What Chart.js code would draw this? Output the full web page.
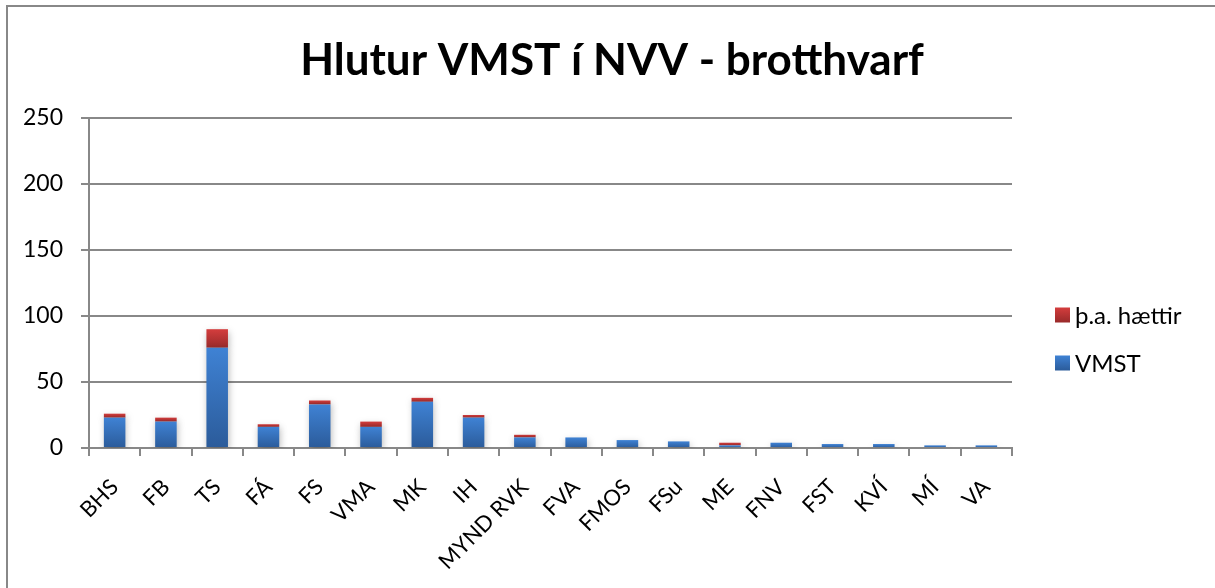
<!DOCTYPE html>
<html><head><meta charset="utf-8">
<script src="https://cdn.jsdelivr.net/npm/chart.js@4/dist/chart.umd.min.js"></script>
<style>html,body{margin:0;padding:0;background:#fff;overflow:hidden}</style>
</head><body>
<canvas id="c" width="1215" height="588"></canvas>
<script>
const categories = ['BHS','FB','TS','FÁ','FS','VMA','MK','IH','MYND RVK','FVA','FMOS','FSu','ME','FNV','FST','KVÍ','MÍ','VA'];
const vmstValues = [23,20,76,16,33,16,35,23,8,8,6,5,2,4,3,3,2,2];
const haettirValues = [3,3,14,2,3,4,3,2,2,0,0,0,2,0,0,0,0,0];
const yTickValues = [0,50,100,150,200,250];
const seriesNames = ['VMST','þ.a. hættir'];
const chartTitle = 'Hlutur VMST í NVV - brotthvarf';

const FONT = 'Lato, "Open Sans", sans-serif';
const GRID = '#888888';
const blueStops = ['#3f82d4', '#2b5b9a'];
const redStops = ['#d43d3d', '#992a2a'];

function grad(ctx, top, bottom, stops) {
  const g = ctx.createLinearGradient(0, top, 0, bottom);
  g.addColorStop(0, stops[0]);
  g.addColorStop(1, stops[1]);
  return g;
}

function barFill(stops, lowerArr, upperArr) {
  return function(context) {
    const chart = context.chart;
    const y = chart.scales.y;
    if (!chart.chartArea || !y || context.dataIndex === undefined) return stops[0];
    const i = context.dataIndex;
    const lo = lowerArr ? lowerArr[i] : 0;
    const hi = lo + upperArr[i];
    const top = y.getPixelForValue(hi);
    const bottom = y.getPixelForValue(lo);
    if (!isFinite(top) || !isFinite(bottom) || top === bottom) return stops[0];
    return grad(chart.ctx, top, bottom, stops);
  };
}

const framePlugin = {
  id: 'frame',
  beforeDraw(chart) {
    const ctx = chart.ctx;
    ctx.save();
    ctx.fillStyle = '#fff';
    ctx.fillRect(0, 0, chart.width, chart.height);
    ctx.strokeStyle = '#888888';
    ctx.lineWidth = 2;
    ctx.beginPath();
    ctx.moveTo(7, chart.height);
    ctx.lineTo(7, 6);
    ctx.lineTo(chart.width, 6);
    ctx.stroke();
    ctx.fillStyle = '#000';
    ctx.font = 'bold 44px ' + FONT;
    ctx.textAlign = 'center';
    ctx.textBaseline = 'alphabetic';
    ctx.fillText(chartTitle, 612, 75);
    ctx.restore();
  }
};

const shadowPlugin = {
  id: 'barShadow',
  beforeDatasetsDraw(chart) {
    const ctx = chart.ctx;
    ctx.save();
    ctx.shadowColor = 'rgba(0,0,0,0.28)';
    ctx.shadowBlur = 7;
    ctx.shadowOffsetX = 1;
    ctx.shadowOffsetY = 3;
  },
  afterDatasetsDraw(chart) {
    chart.ctx.restore();
  }
};

const legendPlugin = {
  id: 'customLegend',
  afterDraw(chart) {
    const ctx = chart.ctx;
    const items = chart.data.datasets.map(d => ({ label: d.label, stops: d._stops })).reverse();
    const x = 1055, size = 15;
    const rows = [315, 363];
    ctx.save();
    ctx.font = '24px ' + FONT;
    ctx.textBaseline = 'middle';
    items.forEach((it, k) => {
      const cy = rows[k];
      ctx.fillStyle = grad(ctx, cy - size / 2, cy + size / 2, it.stops);
      ctx.fillRect(x, cy - size / 2, size, size);
      ctx.fillStyle = '#000';
      ctx.fillText(it.label, x + 20, cy + 1);
    });
    ctx.restore();
  }
};

const datasets = [
  { label: seriesNames[0], data: vmstValues, backgroundColor: barFill(blueStops, null, vmstValues), _stops: blueStops },
  { label: seriesNames[1], data: haettirValues, backgroundColor: barFill(redStops, vmstValues, haettirValues), _stops: redStops }
];

new Chart(document.getElementById('c'), {
  type: 'bar',
  data: { labels: categories, datasets },
  plugins: [framePlugin, shadowPlugin, legendPlugin],
  options: {
    responsive: false,
    devicePixelRatio: 1,
    animation: false,
    layout: { padding: { left: 0, right: 203, top: 118, bottom: 0 } },
    datasets: { bar: { categoryPercentage: 1, barPercentage: 0.42, borderWidth: 0 } },
    plugins: {
      legend: { display: false },
      tooltip: { enabled: false },
      title: { display: false }
    },
    scales: {
      x: {
        stacked: true,
        afterFit(axis) { axis.height = 140; },
        grid: { offset: true, drawOnChartArea: false, drawTicks: true, tickLength: 8, color: GRID, lineWidth: 2 },
        border: { display: true, color: GRID, width: 2 },
        ticks: { autoSkip: false, maxRotation: 45, minRotation: 45, padding: 18, color: '#000', font: { family: FONT, size: 22 } }
      },
      y: {
        stacked: true,
        min: yTickValues[0],
        max: yTickValues[yTickValues.length - 1],
        afterFit(axis) { axis.width = 89; },
        afterBuildTicks(axis) { axis.ticks = yTickValues.map(v => ({ value: v })); },
        grid: { color: GRID, lineWidth: 2, tickLength: 8, drawTicks: true },
        border: { display: true, color: GRID, width: 2 },
        ticks: { padding: 18, color: '#000', font: { family: FONT, size: 23 } }
      }
    }
  }
});
</script>
</body></html>
